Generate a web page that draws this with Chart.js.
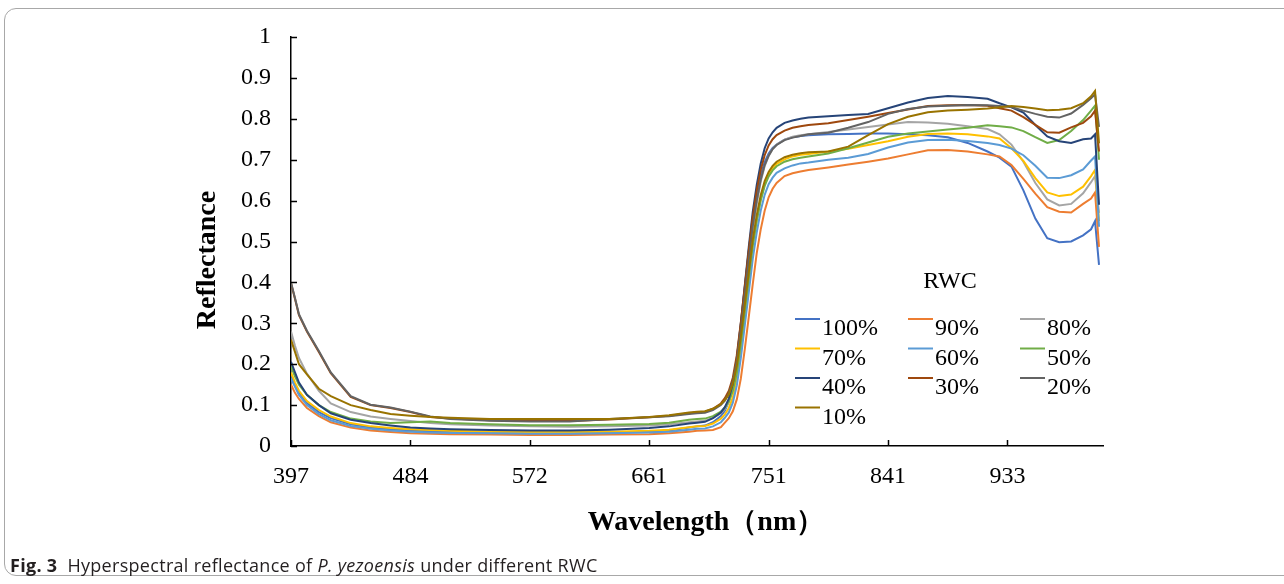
<!DOCTYPE html>
<html>
<head>
<meta charset="utf-8">
<title>Hyperspectral reflectance</title>
<script src="https://cdn.jsdelivr.net/npm/chart.js"></script>
<style>
  html,body{margin:0;padding:0;background:#fff;overflow:hidden}
  #wrap{position:relative;width:1284px;height:584px}
  #chart{position:absolute;left:0;top:0}
  .frame{position:absolute;left:4px;top:8px;width:1320px;height:568px;border:1px solid #a8a8a8;border-radius:12px;box-sizing:border-box}
  .caption{position:absolute;left:10px;top:553px;font:18px "Open Sans",sans-serif;letter-spacing:0.3px;color:#231f20;white-space:nowrap}
</style>
</head>
<body>
<div id="wrap">
  <div class="frame"></div>
  <canvas id="chart" width="1284" height="584"></canvas>
  <div class="caption"><b>Fig. 3</b>&nbsp;&nbsp;Hyperspectral reflectance of <i>P. yezoensis</i> under different RWC</div>
</div>
<script>
// band index of each sampled point (204 bands, 397–1004 nm); denser across the red edge
const BAND=[0,1,2,4,7,10,15,20,25,30,35,40,50,60,70,80,90,95,100,
  102,104,106,108,109,110,111,112,113,114,115,116,117,118,119,120,121,122,124,126,128,
  130,135,140,145,150,155,160,165,170,175,178,181,184,187,190,193,196,199,201,202,203];
// axis ticks: every 30th band, labelled by wavelength
const TICK_BANDS=[0,30,60,90,120,150,180];
const TICK_NM=[397,484,572,661,751,841,933];

const RWC_LABELS=['100%','90%','80%','70%','60%','50%','40%','30%','20%','10%'];
const COLORS=['#4472C4','#ED7D31','#A5A5A5','#FFC000','#5B9BD5','#70AD47','#264478','#9E480E','#636363','#997300'];

const R100=[0.17,0.15,0.13,0.105,0.083,0.068,0.053,0.045,0.041,0.038,0.036,0.035,0.033,0.032,0.032,0.033,0.035,0.038,0.045,
  0.048,0.05,0.058,0.073,0.086,0.109,0.148,0.213,0.296,0.386,0.475,0.553,0.615,0.662,0.694,0.715,0.729,0.737,0.749,0.755,0.758,
  0.76,0.762,0.763,0.764,0.764,0.762,0.76,0.755,0.741,0.72,0.705,0.683,0.625,0.556,0.508,0.498,0.5,0.515,0.53,0.55,0.443];
const R90=[0.15,0.13,0.115,0.093,0.073,0.058,0.045,0.038,0.034,0.031,0.03,0.029,0.028,0.027,0.027,0.028,0.029,0.031,0.035,
  0.037,0.038,0.039,0.046,0.057,0.068,0.085,0.114,0.164,0.236,0.315,0.395,0.471,0.529,0.575,0.608,0.629,0.643,0.66,0.667,0.671,
  0.675,0.681,0.688,0.695,0.703,0.713,0.723,0.724,0.72,0.713,0.708,0.687,0.653,0.617,0.584,0.573,0.571,0.592,0.605,0.62,0.487];
const R80=[0.28,0.245,0.215,0.177,0.135,0.104,0.083,0.072,0.066,0.061,0.056,0.053,0.05,0.048,0.047,0.048,0.05,0.053,0.058,
  0.06,0.062,0.068,0.08,0.091,0.107,0.135,0.184,0.262,0.349,0.437,0.525,0.592,0.646,0.684,0.709,0.726,0.737,0.749,0.756,0.76,
  0.762,0.768,0.774,0.78,0.786,0.792,0.791,0.788,0.782,0.775,0.762,0.737,0.695,0.643,0.603,0.588,0.592,0.618,0.645,0.66,0.57];
const R70=[0.18,0.155,0.135,0.11,0.088,0.072,0.056,0.048,0.044,0.041,0.039,0.037,0.035,0.034,0.034,0.035,0.037,0.04,0.046,
  0.048,0.049,0.055,0.067,0.077,0.093,0.119,0.166,0.239,0.322,0.406,0.489,0.552,0.603,0.64,0.664,0.679,0.69,0.701,0.708,0.712,
  0.714,0.72,0.727,0.736,0.745,0.756,0.763,0.764,0.762,0.757,0.752,0.728,0.697,0.655,0.62,0.611,0.615,0.634,0.66,0.675,0.55];
const R60=[0.165,0.145,0.125,0.1,0.078,0.063,0.049,0.042,0.038,0.035,0.033,0.032,0.031,0.03,0.03,0.031,0.033,0.035,0.04,
  0.042,0.043,0.048,0.058,0.069,0.082,0.106,0.148,0.214,0.294,0.375,0.457,0.522,0.575,0.614,0.64,0.656,0.668,0.679,0.686,0.691,
  0.693,0.7,0.705,0.714,0.73,0.742,0.748,0.749,0.746,0.741,0.736,0.727,0.711,0.685,0.656,0.655,0.662,0.676,0.698,0.708,0.536];
const R50=[0.195,0.17,0.15,0.125,0.1,0.083,0.067,0.06,0.056,0.058,0.06,0.056,0.053,0.051,0.051,0.052,0.054,0.057,0.064,
  0.066,0.067,0.073,0.084,0.094,0.109,0.135,0.179,0.25,0.33,0.41,0.49,0.551,0.6,0.636,0.659,0.674,0.684,0.695,0.701,0.705,
  0.708,0.715,0.728,0.742,0.756,0.764,0.769,0.774,0.778,0.784,0.782,0.779,0.77,0.755,0.741,0.748,0.77,0.797,0.82,0.832,0.7];
const R40=[0.206,0.18,0.155,0.125,0.1,0.08,0.064,0.056,0.05,0.045,0.043,0.041,0.039,0.038,0.038,0.04,0.044,0.048,0.055,
  0.057,0.059,0.068,0.082,0.095,0.116,0.153,0.214,0.299,0.392,0.486,0.572,0.638,0.69,0.728,0.752,0.767,0.778,0.79,0.796,0.8,
  0.803,0.806,0.809,0.812,0.826,0.84,0.851,0.856,0.853,0.849,0.838,0.828,0.815,0.785,0.757,0.745,0.741,0.75,0.752,0.762,0.59];
const R30=[0.398,0.36,0.32,0.28,0.23,0.178,0.12,0.1,0.093,0.083,0.071,0.067,0.063,0.061,0.061,0.065,0.07,0.074,0.08,
  0.082,0.084,0.091,0.104,0.117,0.135,0.167,0.222,0.301,0.389,0.477,0.56,0.624,0.675,0.711,0.735,0.75,0.76,0.771,0.778,0.782,
  0.785,0.789,0.797,0.805,0.814,0.823,0.831,0.833,0.834,0.832,0.826,0.82,0.804,0.785,0.767,0.766,0.779,0.79,0.806,0.82,0.72];
const R20=[0.4,0.362,0.322,0.282,0.232,0.18,0.122,0.101,0.094,0.084,0.072,0.066,0.062,0.06,0.06,0.066,0.07,0.073,0.078,
  0.08,0.081,0.088,0.1,0.111,0.128,0.158,0.208,0.284,0.369,0.454,0.537,0.6,0.651,0.687,0.71,0.726,0.736,0.748,0.754,0.758,
  0.762,0.766,0.778,0.792,0.812,0.824,0.83,0.832,0.834,0.833,0.831,0.829,0.82,0.812,0.805,0.803,0.813,0.834,0.85,0.86,0.78];
const R10=[0.26,0.23,0.2,0.175,0.14,0.122,0.1,0.088,0.078,0.074,0.071,0.069,0.066,0.066,0.066,0.066,0.071,0.075,0.082,
  0.084,0.085,0.091,0.102,0.112,0.126,0.152,0.196,0.266,0.345,0.424,0.504,0.564,0.613,0.648,0.67,0.685,0.695,0.706,0.712,0.716,
  0.718,0.72,0.732,0.76,0.787,0.805,0.816,0.82,0.822,0.825,0.828,0.831,0.829,0.825,0.821,0.822,0.826,0.838,0.855,0.868,0.74];

const SERIES=[R100,R90,R80,R70,R60,R50,R40,R30,R20,R10];
const SERIF='"Liberation Serif","Times New Roman",serif';

// chart area box in canvas px
const AREA={left:291,top:37,right:1103,bottom:446};

// inward tick marks, axis titles and the RWC key
const decor={
  id:'decor',
  afterDatasetsDraw(chart){
    const {ctx, chartArea:a, scales:{x,y}}=chart;
    ctx.save();
    ctx.strokeStyle='#000'; ctx.lineWidth=1.5;
    ctx.beginPath();
    x.ticks.forEach(t=>{ const px=Math.round(x.getPixelForValue(t.value))+0.5; ctx.moveTo(px,a.bottom); ctx.lineTo(px,a.bottom-6); });
    y.ticks.forEach(t=>{ const py=Math.round(y.getPixelForValue(t.value))+0.5; ctx.moveTo(a.left,py); ctx.lineTo(a.left+6,py); });
    ctx.stroke();
    ctx.restore();
  },
  afterDraw(chart){
    const ctx=chart.ctx;
    ctx.save();
    ctx.fillStyle='#000';
    ctx.textAlign='center'; ctx.textBaseline='middle';
    ctx.font='bold 28px '+SERIF;
    ctx.fillText('Wavelength（nm）',706,523);
    ctx.save(); ctx.translate(208,260); ctx.rotate(-Math.PI/2); ctx.fillText('Reflectance',0,0); ctx.restore();

    ctx.font='24px '+SERIF;
    ctx.fillText('RWC',950,282);
    ctx.textAlign='left';
    const cols=[795,908,1020];
    chart.data.datasets.forEach((ds,i)=>{
      const lx=cols[i%3], ly=319+Math.floor(i/3)*29.5;
      ctx.strokeStyle=ds.borderColor; ctx.lineWidth=2;
      ctx.beginPath(); ctx.moveTo(lx,ly); ctx.lineTo(lx+25,ly); ctx.stroke();
      ctx.fillText(ds.label,lx+27,ly+10);
    });
    ctx.restore();
  }
};

const datasets=SERIES.map((s,i)=>({
  label:RWC_LABELS[i],
  data:BAND.map((b,j)=>({x:b,y:s[j]})),
  borderColor:COLORS[i],
  backgroundColor:COLORS[i],
  borderWidth:2,
  pointRadius:0,
  tension:0,
  order:SERIES.length-i // later series drawn on top
}));

new Chart(document.getElementById('chart'),{
  type:'line',
  data:{datasets},
  options:{
    responsive:false,
    animation:false,
    layout:{padding:{left:0,top:AREA.top,right:1284-AREA.right,bottom:0}},
    plugins:{legend:{display:false},tooltip:{enabled:false}},
    scales:{
      x:{
        type:'linear', min:0, max:204,
        grid:{display:false,drawTicks:false},
        border:{display:true,color:'#000',width:1.5},
        afterBuildTicks:s=>{ s.ticks=TICK_BANDS.map(v=>({value:v})) },
        afterFit:s=>{ s.height=584-AREA.bottom },
        ticks:{
          padding:16, color:'#000', font:{family:SERIF,size:24},
          maxRotation:0, autoSkip:false,
          callback:v=>TICK_NM[TICK_BANDS.indexOf(v)]
        }
      },
      y:{
        min:0, max:1,
        grid:{display:false,drawTicks:false},
        border:{display:true,color:'#000',width:1.5},
        afterFit:s=>{ s.width=AREA.left },
        ticks:{
          stepSize:0.1, padding:20, color:'#000', font:{family:SERIF,size:24},
          callback:v=>String(Math.round(v*10)/10)
        }
      }
    }
  },
  plugins:[decor]
});
</script>
</body>
</html>
